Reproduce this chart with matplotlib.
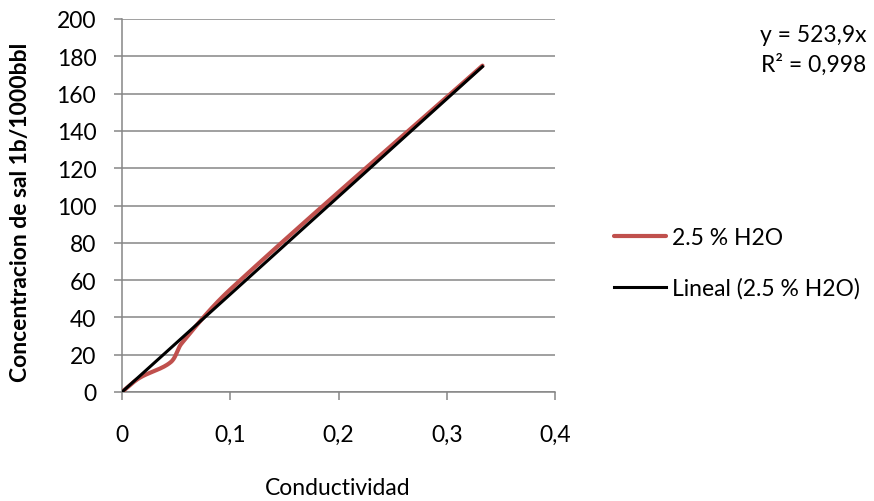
import numpy as np
import matplotlib
matplotlib.use("Agg")
import matplotlib.pyplot as plt

plt.rcParams['font.family'] = ['Lato', 'DejaVu Sans']

# Measured data
conductividad = [0.0, 0.016, 0.045, 0.055, 0.100, 0.333]
concentracion = [0.0, 7.5, 16.0, 26.0, 55.0, 175.0]
serie_label = "2.5 % H2O"
trend_label = "Lineal (2.5 % H2O)"
pendiente = 523.9
r2 = 0.998
x_ticks = [0, 0.1, 0.2, 0.3, 0.4]
y_ticks = list(range(0, 201, 20))


def smooth_curve(xs, ys, sx, sy, n=40):
    """Smoothed line through the points: cubic Bezier segments whose
    tangents follow the neighbouring points, scaled by segment length."""
    p = np.column_stack([xs, ys]).astype(float) * [sx, sy]
    m = len(p)
    tang = np.zeros_like(p)
    for i in range(m):
        a = p[max(i - 1, 0)]
        b = p[min(i + 1, m - 1)]
        d = b - a
        tang[i] = d / (np.hypot(*d) or 1.0)
    out = []
    for i in range(m - 1):
        p1, p2 = p[i], p[i + 1]
        L = np.hypot(*(p2 - p1)) / 3.0
        c1 = p1 + tang[i] * L
        c2 = p2 - tang[i + 1] * L
        t = np.linspace(0, 1, n)[:, None]
        seg = ((1 - t) ** 3) * p1 + 3 * ((1 - t) ** 2) * t * c1 \
            + 3 * (1 - t) * t ** 2 * c2 + t ** 3 * p2
        out.append(seg if i == 0 else seg[1:])
    out = np.vstack(out) / [sx, sy]
    return out[:, 0], out[:, 1]


W, H = 874, 502
fig = plt.figure(figsize=(W / 100, H / 100), dpi=100)
ax = fig.add_axes([122 / W, 1 - 393 / H, 433 / W, 373 / H])

grid_color = "#868686"
# scale factors: data units -> approximate pixels on the canvas
cx, cy = smooth_curve(conductividad, concentracion, 433 / 0.4, 373 / 200)
ax.plot(cx, cy, color="#C0504D", lw=3.0, solid_capstyle="round",
        label=serie_label, zorder=3)

xt = np.array([0.0, max(conductividad)])
ax.plot(xt, pendiente * xt, color="black", lw=2.2, label=trend_label, zorder=4)

ax.set_xlim(0, 0.4)
ax.set_ylim(0, 200)
ax.set_xticks(x_ticks)
ax.set_yticks(y_ticks)
ax.set_xticklabels([f"{v:g}".replace(".", ",") for v in x_ticks])
ax.set_yticklabels([str(v) for v in y_ticks])

fs = 16.5
ax.yaxis.grid(True, color=grid_color, lw=1.1)
ax.set_axisbelow(True)
for s in ("top", "right"):
    ax.spines[s].set_visible(False)
for s in ("left", "bottom"):
    ax.spines[s].set_color(grid_color)
    ax.spines[s].set_linewidth(1.1)
ax.tick_params(axis="both", colors=grid_color, length=5.5, width=1.1,
               labelcolor="black", labelsize=fs)
ax.tick_params(axis="x", pad=17.5)
ax.tick_params(axis="y", pad=13)

fig.text(338 / W, 1 - 489 / H, "Conductividad", ha="center", va="center",
         fontsize=fs)
fig.text(21 / W, 1 - 212 / H, "Concentracion de sal 1b/1000bbl",
         ha="center", va="center", rotation=90, fontsize=16.5,
         fontweight="bold")

ax.legend(loc="center left", bbox_to_anchor=(593 / W, 1 - 264 / H),
          bbox_transform=fig.transFigure, frameon=False, fontsize=fs,
          handlelength=2.27, handletextpad=0.26, labelspacing=1.27)

fig.text(866 / W, 1 - 36 / H, f"y = {pendiente:g}x".replace(".", ","),
         ha="right", va="center", fontsize=fs)
fig.text(866 / W, 1 - 65 / H, f"R² = {r2:g}".replace(".", ","),
         ha="right", va="center", fontsize=fs)

fig.savefig("out.png", dpi=100)
